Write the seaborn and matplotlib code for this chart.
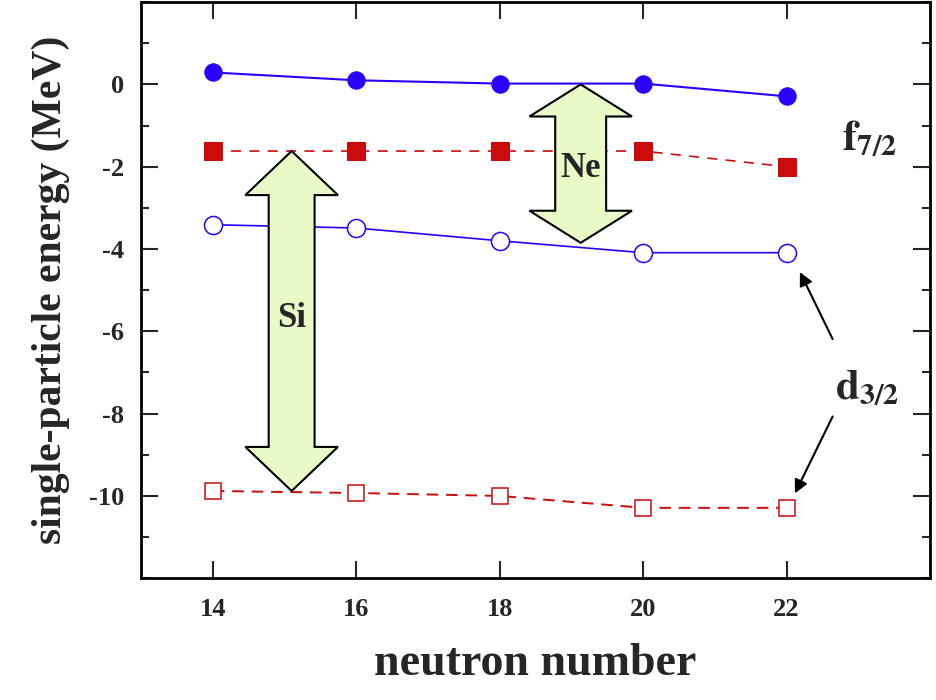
import matplotlib
matplotlib.use("Agg")
import matplotlib.pyplot as plt
from matplotlib.patches import Polygon
from matplotlib.ticker import MultipleLocator
import seaborn as sns
import pandas as pd

sns.set_theme(style="ticks")
plt.rcParams['font.family'] = ['Liberation Serif', 'DejaVu Serif']
plt.rcParams['mathtext.fontset'] = 'stix'
plt.rcParams['axes.unicode_minus'] = False

neutrons = [14, 16, 18, 20, 22]
f72_blue = [0.29, 0.10, 0.02, 0.02, -0.29]
f72_red = [-1.62, -1.62, -1.62, -1.62, -2.00]
d32_blue = [-3.41, -3.49, -3.80, -4.09, -4.09]
d32_red = [-9.88, -9.93, -10.00, -10.29, -10.29]

blue = '#2b00ff'
red = '#cc0c0c'
arrow_fill = '#eafac6'

df = pd.DataFrame({'N': neutrons, 'f_b': f72_blue, 'f_r': f72_red,
                   'd_b': d32_blue, 'd_r': d32_red})

fig = plt.figure(figsize=(9.37, 7.0), dpi=100)
ax = fig.add_axes([0.1505, 0.174, 0.842, 0.823])

sns.lineplot(data=df, x='N', y='f_b', ax=ax, color=blue, lw=1.5,
             marker='o', markersize=12.5, markeredgecolor=blue)
sns.lineplot(data=df, x='N', y='f_r', ax=ax, color=red, lw=1.2,
             linestyle=(0, (6, 5)), marker='s', markersize=13,
             markeredgecolor=red)
sns.lineplot(data=df, x='N', y='d_b', ax=ax, color=blue, lw=1.2,
             marker='o', markersize=13, markerfacecolor='white',
             markeredgecolor=blue, markeredgewidth=1.1)
sns.lineplot(data=df, x='N', y='d_r', ax=ax, color=red, lw=1.4,
             linestyle=(0, (6, 4)), marker='s', markersize=11.5,
             markerfacecolor='white', markeredgecolor=red,
             markeredgewidth=1.1)


def double_arrow(ax, x, y0, y1, shaft_w, head_w, head_l):
    top, bot = max(y0, y1), min(y0, y1)
    s, h = shaft_w / 2, head_w / 2
    pts = [(x, top), (x + h, top - head_l), (x + s, top - head_l),
           (x + s, bot + head_l), (x + h, bot + head_l), (x, bot),
           (x - h, bot + head_l), (x - s, bot + head_l),
           (x - s, top - head_l), (x - h, top - head_l)]
    ax.add_patch(Polygon(pts, closed=True, facecolor=arrow_fill,
                         edgecolor='black', lw=1.5, zorder=5))


double_arrow(ax, 15.1, f72_red[0], d32_red[0], 0.64, 1.29, 1.07)
double_arrow(ax, 19.13, 0.0, -3.85, 0.71, 1.43, 0.78)

ax.text(15.1, -5.7, 'Si', ha='center', va='center', fontsize=25,
        fontweight='bold', zorder=6)
ax.text(19.13, -2.05, 'Ne', ha='center', va='center', fontsize=25,
        fontweight='bold', zorder=6)
ax.text(23.15, -1.35, r'$\mathbf{f_{7/2}}$', ha='center', va='center',
        fontsize=31)
ax.text(23.13, -7.4, r'$\mathbf{d_{3/2}}$', ha='center', va='center',
        fontsize=31)
ax.annotate('', xy=(22.17, -4.5), xytext=(22.66, -6.25),
            arrowprops=dict(arrowstyle='-|>', color='black', lw=1.5,
                            mutation_scale=20))
ax.annotate('', xy=(22.1, -10.0), xytext=(22.66, -8.01),
            arrowprops=dict(arrowstyle='-|>', color='black', lw=1.5,
                            mutation_scale=20))

ax.set_xlim(13, 24)
ax.set_ylim(-12, 2)
ax.set_xticks(neutrons)
ax.set_yticks([-10, -8, -6, -4, -2, 0])
ax.yaxis.set_minor_locator(MultipleLocator(1))
ax.tick_params(which='both', direction='in', top=True, right=True,
               width=1.5, labelsize=19)
ax.tick_params(which='major', length=12)
ax.tick_params(which='minor', length=6)
ax.tick_params(axis='x', pad=14)
ax.tick_params(axis='y', pad=12)
for lab in ax.get_xticklabels() + ax.get_yticklabels():
    lab.set_fontweight('bold')
for sp in ax.spines.values():
    sp.set_linewidth(2)
    sp.set_color('black')

ax.set_xlabel('neutron number', fontsize=33, fontweight='bold', labelpad=16)
ax.set_ylabel('single-particle energy (MeV)', fontsize=30,
              fontweight='bold', labelpad=14)

fig.savefig('out.png', dpi=100)
